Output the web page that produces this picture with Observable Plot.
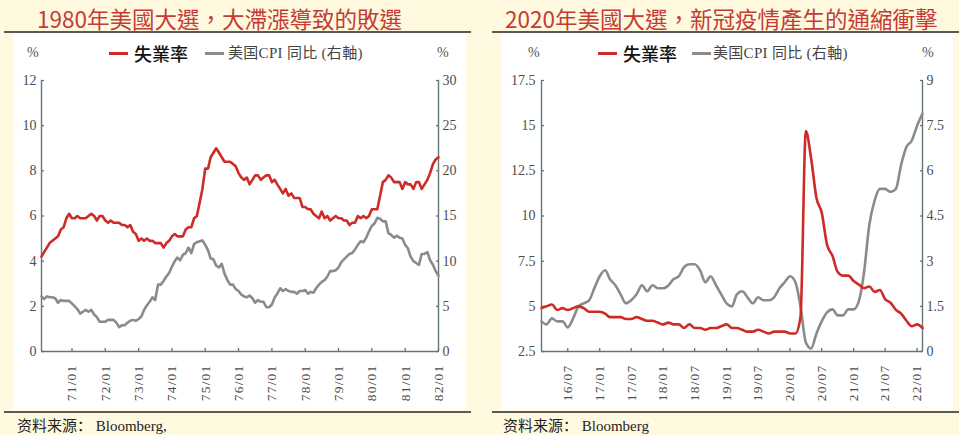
<!DOCTYPE html>
<html><head><meta charset="utf-8">
<script src="https://cdn.jsdelivr.net/npm/d3@7"></script>
<script src="https://cdn.jsdelivr.net/npm/@observablehq/plot@0.6"></script>
<style>
body{margin:0;width:959px;height:435px;background:#FFFADF;position:relative;overflow:hidden;font-family:"Liberation Serif","Noto Sans CJK TC",serif;}
.abs{position:absolute;white-space:nowrap;}
.title{font-family:"Noto Sans CJK TC",sans-serif;font-size:22.5px;line-height:24px;color:#C43C35;top:6px;}
.hr{height:1.5px;background:#5a5a5a;}
.panel{background:#fff;top:34px;height:376px;}
.pct{font-size:14px;line-height:16px;color:#555;top:45px;}
.seg{height:3px;width:19px;top:52px;}
.lgA{font-family:"Noto Sans CJK TC",sans-serif;font-size:18px;line-height:20px;color:#111;top:43px;font-weight:500;}
.lgB{font-family:"Liberation Serif","Noto Sans CJK TC",serif;font-size:15px;line-height:18px;color:#444;top:44px;letter-spacing:0.3px;}
.src{font-family:"Liberation Serif","Noto Sans CJK SC",serif;font-size:15px;line-height:18px;color:#222;top:417px;}
svg g[aria-label="x-axis tick label"] text{letter-spacing:1.2px;}
</style>
</head><body>

<div class="abs title" style="left:37px">1980年美國大選，大滯漲導致的敗選</div>
<div class="abs title" style="left:505px">2020年美國大選，新冠疫情產生的通縮衝擊</div>
<div class="abs hr" style="left:4px;top:31px;width:467px"></div>
<div class="abs hr" style="left:492px;top:31px;width:467px"></div>
<div class="abs panel" style="left:13px;width:453px"></div>
<div class="abs panel" style="left:501px;width:452px"></div>
<div class="abs hr" style="left:4px;top:411px;width:467px"></div>
<div class="abs hr" style="left:492px;top:411px;width:467px"></div>

<div class="abs pct" style="left:27px">%</div>
<div class="abs pct" style="left:437px">%</div>
<div class="abs pct" style="left:528px">%</div>
<div class="abs pct" style="left:922px">%</div>

<div class="abs seg" style="left:109px;background:#CE2B27"></div>
<div class="abs lgA" style="left:134px">失業率</div>
<div class="abs seg" style="left:205px;background:#8B8B8B"></div>
<div class="abs lgB" style="left:228px">美国CPI 同比 (右軸)</div>

<div class="abs seg" style="left:598px;background:#CE2B27"></div>
<div class="abs lgA" style="left:623px">失業率</div>
<div class="abs seg" style="left:692px;background:#8B8B8B"></div>
<div class="abs lgB" style="left:713px">美国CPI 同比 (右軸)</div>

<div class="abs src" style="left:17px">资料来源：&nbsp;Bloomberg,</div>
<div class="abs src" style="left:503px">资料来源：&nbsp;Bloomberg</div>

<div id="c1" class="abs" style="left:13px;top:35px"></div>
<div id="c2" class="abs" style="left:501px;top:35px"></div>

<script>
// ---------- Data: 1980 election panel (monthly, 1970/02 - 1982/01) ----------
const unemp1980 = [4.2,4.4,4.6,4.8,4.9,5.0,5.1,5.4,5.5,5.9,6.1,
5.9,5.9,6.0,5.9,5.9,5.9,6.0,6.1,6.0,5.8,6.0,6.0,
5.8,5.7,5.8,5.7,5.7,5.7,5.6,5.6,5.5,5.6,5.3,5.2,
4.9,5.0,4.9,5.0,4.9,4.9,4.8,4.8,4.8,4.6,4.8,4.9,
5.1,5.2,5.1,5.1,5.1,5.4,5.5,5.5,5.9,6.0,6.6,7.2,
8.1,8.1,8.6,8.8,9.0,8.8,8.6,8.4,8.4,8.4,8.3,8.2,
7.9,7.7,7.6,7.7,7.4,7.6,7.8,7.8,7.6,7.7,7.8,7.8,
7.5,7.6,7.4,7.2,7.0,7.2,6.9,7.0,6.8,6.8,6.8,6.4,
6.4,6.3,6.3,6.1,6.0,5.9,6.2,5.9,6.0,5.8,5.9,6.0,
5.9,5.9,5.8,5.8,5.6,5.7,5.7,6.0,5.9,6.0,5.9,6.0,
6.3,6.3,6.3,6.9,7.5,7.6,7.8,7.7,7.5,7.5,7.5,7.2,
7.5,7.4,7.4,7.2,7.5,7.5,7.2,7.4,7.6,7.9,8.3,8.5,
8.6];
const cpi1980 = [6.1,5.8,6.1,6.0,6.0,5.9,5.4,5.7,5.6,5.6,5.6,
5.3,5.0,4.7,4.2,4.4,4.6,4.4,4.6,4.1,3.8,3.3,3.3,
3.3,3.5,3.5,3.5,3.2,2.7,2.9,2.9,3.2,3.4,3.5,3.4,
3.6,3.9,4.6,5.1,5.5,6.0,5.7,7.4,7.4,7.8,8.3,8.7,
9.4,10.0,10.4,10.1,10.7,10.9,11.5,10.9,11.9,12.1,12.2,12.3,
11.8,11.2,10.3,10.2,9.5,9.3,9.7,8.6,7.9,7.4,7.4,6.9,
6.7,6.3,6.1,6.0,6.2,5.9,5.4,5.7,5.5,5.5,4.9,4.9,
5.2,6.0,6.4,7.0,6.7,6.9,6.7,6.6,6.6,6.4,6.7,6.7,
6.8,6.4,6.6,6.5,7.0,7.4,7.7,7.9,8.3,8.9,8.9,9.0,
9.3,9.9,10.2,10.5,10.8,10.9,11.3,11.8,12.2,12.1,12.6,13.3,
13.9,14.2,14.8,14.7,14.4,14.4,13.1,12.9,12.6,12.8,12.6,12.5,
11.8,11.4,10.5,10.0,9.8,9.6,10.8,10.8,11.0,10.1,9.6,8.9,
8.4];
const xTicks1980 = ["71/01","72/01","73/01","74/01","75/01","76/01","77/01","78/01","79/01","80/01","81/01","82/01"];
const yLeft1980 = [0,2,4,6,8,10,12];
const yRight1980 = [0,5,10,15,20,25,30];

// ---------- Data: 2020 election panel (monthly, 2016/02 - 2022/02) ----------
const unemp2020 = [4.9,5.0,5.1,4.8,4.9,4.8,4.9,5.0,4.9,4.7,4.7,
4.7,4.6,4.4,4.4,4.4,4.3,4.3,4.4,4.3,4.2,4.2,4.1,
4.0,4.1,4.0,4.0,3.8,4.0,3.8,3.8,3.7,3.8,3.8,3.9,
4.0,3.8,3.8,3.7,3.6,3.6,3.7,3.6,3.5,3.6,3.6,3.6,
3.5,3.5,4.4,14.7,13.2,11.0,10.2,8.4,7.8,6.9,6.7,6.7,
6.4,6.2,6.0,6.1,5.8,5.9,5.4,5.2,4.8,4.6,4.2,3.9,
4.0,3.8];
const cpi2020 = [1.0,0.9,1.1,1.0,1.0,0.8,1.1,1.5,1.6,1.7,2.1,
2.5,2.7,2.4,2.2,1.9,1.6,1.7,1.9,2.2,2.0,2.2,2.1,
2.1,2.2,2.4,2.5,2.8,2.9,2.9,2.7,2.3,2.5,2.2,1.9,
1.6,1.5,1.9,2.0,1.8,1.6,1.8,1.7,1.7,1.8,2.1,2.3,
2.5,2.3,1.5,0.3,0.1,0.6,1.0,1.3,1.4,1.2,1.2,1.4,
1.4,1.7,2.6,4.2,5.0,5.4,5.4,5.3,5.4,6.2,6.8,7.0,
7.5,7.9];
const xTicks2020 = ["16/07","17/01","17/07","18/01","18/07","19/01","19/07","20/01","20/07","21/01","21/07","22/01"];
const yLeft2020 = [2.5,5,7.5,10,12.5,15,17.5];
const yRight2020 = [0,1.5,3,4.5,6,7.5,9];

const RED = "#CE2B27", GRAY = "#8B8B8B", AXIS = "#627676", TXT = "#4d4d4d";

const months = (y, m, n) => d3.range(n).map(i => new Date(Date.UTC(y, m - 1 + i, 1)));
const labelDate = s => { const [yy, mm] = s.split("/").map(Number); return new Date(Date.UTC(yy < 50 ? 2000 + yy : 1900 + yy, mm - 1, 1)); };
const fmtX = d3.utcFormat("%y/%m");

function chart(o) {
  const dates = months(o.y0, o.m0, o.unemp.length);
  const dU = dates.map((d, i) => ({date: d, value: o.unemp[i]}));
  const dC = dates.map((d, i) => ({date: d, value: o.offset + o.cpi[i] * o.factor}));
  const rPos = o.rTicks.map(t => o.offset + t * o.factor);
  const xDom = [dates[0], dates[dates.length - 1]];
  const yDom = [o.lTicks[0], o.lTicks[o.lTicks.length - 1]];
  return Plot.plot({
    width: o.width, height: 375,
    marginLeft: o.ml, marginRight: o.mr, marginTop: 45, marginBottom: 59,
    style: {background: "transparent", fontFamily: "Liberation Serif, serif", fontSize: "14px", color: TXT, overflow: "visible"},
    x: {type: "utc", domain: xDom},
    y: {domain: yDom},
    marks: [
      Plot.axisY(o.lTicks, {anchor: "left", tickSize: 3, inset: 3, tickPadding: o.lpad, stroke: AXIS, fill: TXT, strokeWidth: 1.3, label: null, tickFormat: d => String(d), fontSize: 14}),
      Plot.axisY(rPos, {anchor: "right", tickSize: 3, inset: 3, tickPadding: 4, stroke: AXIS, fill: TXT, strokeWidth: 1.3, label: null, tickFormat: d => String(+((d - o.offset) / o.factor).toFixed(2)), fontSize: 14}),
      Plot.axisX(o.xTicks.map(labelDate), {anchor: "bottom", tickSize: 3, inset: 3, tickPadding: 13, tickRotate: -90, textAnchor: "end", lineAnchor: "middle", stroke: AXIS, fill: TXT, strokeWidth: 1.3, label: null, tickFormat: fmtX, fontSize: 13.5}),
      Plot.ruleX(xDom, {stroke: AXIS, strokeWidth: 1.4}),
      Plot.ruleY([yDom[0]], {stroke: AXIS, strokeWidth: 1.4}),
      Plot.line(dC, {x: "date", y: "value", stroke: GRAY, strokeWidth: 2.6, curve: o.curve}),
      Plot.line(dU, {x: "date", y: "value", stroke: RED, strokeWidth: 2.6, curve: o.curve})
    ]
  });
}

document.getElementById("c1").append(chart({
  unemp: unemp1980, cpi: cpi1980, y0: 1970, m0: 2, xTicks: xTicks1980,
  lTicks: yLeft1980, rTicks: yRight1980, offset: 0, factor: 12 / 30,
  width: 453, ml: 28, mr: 28, lpad: 5, curve: "linear"
}));
document.getElementById("c2").append(chart({
  unemp: unemp2020, cpi: cpi2020, y0: 2016, m0: 2, xTicks: xTicks2020,
  lTicks: yLeft2020, rTicks: yRight2020, offset: 2.5, factor: 15 / 9,
  width: 452, ml: 40, mr: 31, lpad: 6, curve: "monotone-x"
}));
</script>
</body></html>
